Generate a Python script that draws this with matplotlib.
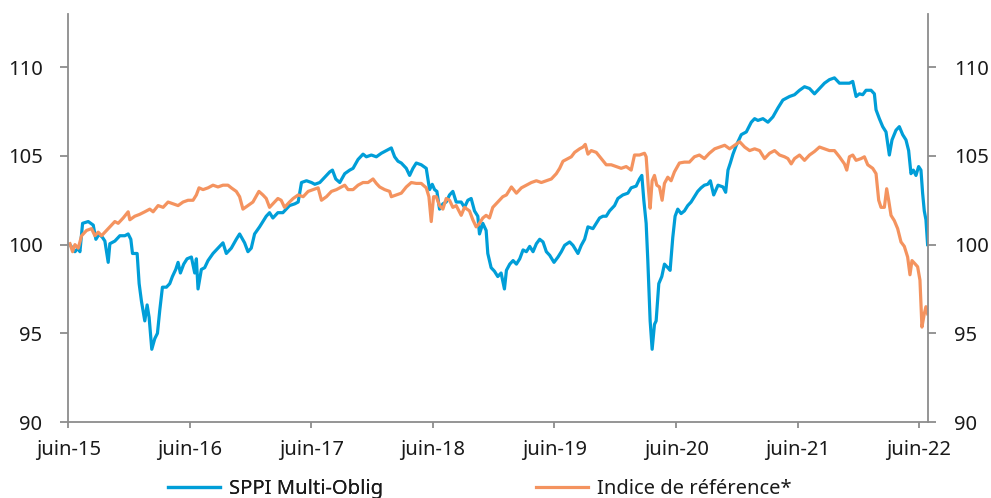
import matplotlib
matplotlib.use("Agg")
import matplotlib.pyplot as plt
import pandas as pd

plt.rcParams['font.family'] = ['Noto Sans', 'DejaVu Sans']

# ---------------- data ----------------
sppi_dates = [
    "2015-06-06", "2015-06-21", "2015-07-01", "2015-07-06", "2015-07-14", "2015-07-31", "2015-08-15",
    "2015-08-23", "2015-09-02", "2015-09-12", "2015-09-19", "2015-09-29", "2015-10-04", "2015-10-19",
    "2015-11-03", "2015-11-18", "2015-11-28", "2015-12-06", "2015-12-11", "2015-12-25", "2015-12-31",
    "2016-01-07", "2016-01-17", "2016-01-24", "2016-01-30", "2016-02-07", "2016-02-16", "2016-02-24",
    "2016-03-02", "2016-03-10", "2016-03-22", "2016-04-01", "2016-04-09", "2016-04-19", "2016-04-26",
    "2016-05-03", "2016-05-13", "2016-05-23", "2016-06-05", "2016-06-15", "2016-06-20", "2016-06-25",
    "2016-07-05", "2016-07-15", "2016-07-25", "2016-08-09", "2016-08-24", "2016-09-08", "2016-09-18",
    "2016-10-03", "2016-10-18", "2016-10-28", "2016-11-12", "2016-11-22", "2016-12-02", "2016-12-12",
    "2016-12-27", "2017-01-16", "2017-01-26", "2017-02-05", "2017-02-20", "2017-03-07", "2017-03-27",
    "2017-04-12", "2017-04-22", "2017-05-02", "2017-05-17", "2017-06-01", "2017-06-11", "2017-06-26",
    "2017-07-11", "2017-07-26", "2017-08-03", "2017-08-13", "2017-08-25", "2017-09-09", "2017-09-24",
    "2017-10-04", "2017-10-19", "2017-11-03", "2017-11-13", "2017-11-28", "2017-12-13", "2017-12-28",
    "2018-01-12", "2018-01-27", "2018-02-06", "2018-02-16", "2018-02-26", "2018-03-13", "2018-03-23",
    "2018-04-02", "2018-04-12", "2018-04-27", "2018-05-12", "2018-05-22", "2018-05-30", "2018-06-06",
    "2018-06-13", "2018-06-21", "2018-07-01", "2018-07-11", "2018-07-21", "2018-07-31", "2018-08-10",
    "2018-08-25", "2018-09-04", "2018-09-14", "2018-09-24", "2018-10-04", "2018-10-14", "2018-10-19",
    "2018-10-29", "2018-11-08", "2018-11-13", "2018-11-23", "2018-12-03", "2018-12-13", "2018-12-23",
    "2019-01-02", "2019-01-08", "2019-01-18", "2019-01-28", "2019-02-07", "2019-02-17", "2019-02-27",
    "2019-03-09", "2019-03-19", "2019-03-29", "2019-04-08", "2019-04-18", "2019-04-28", "2019-05-08",
    "2019-05-18", "2019-05-31", "2019-06-12", "2019-06-22", "2019-07-02", "2019-07-17", "2019-07-27",
    "2019-08-11", "2019-08-21", "2019-08-31", "2019-09-10", "2019-09-25", "2019-10-05", "2019-10-15",
    "2019-10-25", "2019-11-04", "2019-11-14", "2019-11-29", "2019-12-09", "2019-12-24", "2020-01-08",
    "2020-01-18", "2020-02-02", "2020-02-12", "2020-02-19", "2020-02-25", "2020-03-03", "2020-03-08",
    "2020-03-15", "2020-03-21", "2020-03-28", "2020-04-02", "2020-04-10", "2020-04-19", "2020-04-27",
    "2020-05-07", "2020-05-14", "2020-05-22", "2020-05-29", "2020-06-06", "2020-06-16", "2020-06-26",
    "2020-07-06", "2020-07-16", "2020-07-26", "2020-08-05", "2020-08-15", "2020-08-25", "2020-09-04",
    "2020-09-12", "2020-09-22", "2020-10-05", "2020-10-20", "2020-10-28", "2020-11-04", "2020-11-11",
    "2020-11-19", "2020-11-29", "2020-12-14", "2020-12-29", "2021-01-13", "2021-01-23", "2021-02-02",
    "2021-02-17", "2021-03-04", "2021-03-19", "2021-04-03", "2021-04-18", "2021-05-08", "2021-05-23",
    "2021-06-07", "2021-06-22", "2021-07-07", "2021-07-22", "2021-08-06", "2021-08-21", "2021-09-05",
    "2021-09-20", "2021-10-05", "2021-10-20", "2021-11-04", "2021-11-14", "2021-11-24", "2021-12-04",
    "2021-12-14", "2021-12-24", "2022-01-08", "2022-01-18", "2022-01-23", "2022-02-02", "2022-02-12",
    "2022-02-22", "2022-03-04", "2022-03-12", "2022-03-24", "2022-04-03", "2022-04-13", "2022-04-23",
    "2022-05-01", "2022-05-08", "2022-05-15", "2022-05-23", "2022-05-31", "2022-06-07", "2022-06-12",
    "2022-06-17", "2022-06-22", "2022-06-27",
]
sppi_values = [
    100.0, 99.6, 99.8, 99.6, 101.2, 101.3, 101.1,
    100.3, 100.6, 100.4, 100.2, 99.0, 100.05, 100.2,
    100.5, 100.5, 100.6, 100.3, 99.5, 99.5, 97.8,
    96.8, 95.7, 96.6, 95.9, 94.1, 94.7, 95.0,
    96.3, 97.6, 97.6, 97.8, 98.2, 98.6, 99.0,
    98.4, 98.9, 99.2, 99.3, 98.4, 99.2, 97.5,
    98.6, 98.7, 99.1, 99.5, 99.8, 100.1, 99.5,
    99.8, 100.3, 100.6, 100.1, 99.6, 99.8, 100.6,
    101.0, 101.6, 101.8, 101.5, 101.8, 101.8, 102.2,
    102.3, 102.4, 103.5, 103.6, 103.5, 103.4, 103.5,
    103.8, 104.1, 104.2, 103.7, 103.5, 104.0, 104.2,
    104.3, 104.8, 105.1, 104.95, 105.05, 104.95, 105.15,
    105.3, 105.45, 104.95, 104.7, 104.6, 104.3, 103.9,
    104.3, 104.6, 104.5, 104.3, 103.1, 103.4, 103.1,
    103.0, 102.0, 102.3, 102.4, 102.8, 103.0, 102.4,
    102.4, 102.1, 102.5, 102.6, 101.9, 101.6, 100.6,
    101.2, 100.8, 99.5, 98.7, 98.5, 98.2, 98.4,
    97.5, 98.55, 98.9, 99.1, 98.9, 99.2, 99.7,
    99.6, 99.9, 99.6, 100.05, 100.3, 100.15, 99.6,
    99.4, 99.0, 99.3, 99.6, 99.96, 100.15, 99.96,
    99.5, 99.96, 100.3, 101.0, 100.9, 101.2, 101.5,
    101.6, 101.6, 101.9, 102.2, 102.6, 102.8, 102.9,
    103.2, 103.3, 103.7, 103.9, 102.5, 101.2, 99.1,
    95.7, 94.1, 95.5, 95.7, 97.8, 98.2, 98.9,
    98.7, 98.55, 100.4, 101.6, 102.0, 101.75, 101.9,
    102.2, 102.4, 102.7, 103.0, 103.2, 103.35, 103.4,
    103.6, 102.8, 103.35, 103.25, 102.95, 104.2, 104.6,
    105.1, 105.6, 106.2, 106.35, 106.9, 107.1, 107.0,
    107.1, 106.9, 107.2, 107.7, 108.15, 108.35, 108.45,
    108.7, 108.9, 108.8, 108.5, 108.8, 109.1, 109.3,
    109.4, 109.1, 109.1, 109.1, 109.2, 108.35, 108.5,
    108.45, 108.7, 108.7, 108.5, 107.6, 107.1, 106.65,
    106.35, 105.05, 105.9, 106.45, 106.65, 106.2, 105.9,
    105.3, 104.0, 104.2, 103.9, 104.4, 104.2, 102.9,
    101.9, 101.4, 100.0,
]

indice_dates = [
    "2015-06-06", "2015-06-14", "2015-06-21", "2015-07-01", "2015-07-11", "2015-07-26", "2015-08-10",
    "2015-08-20", "2015-08-30", "2015-09-09", "2015-09-19", "2015-10-04", "2015-10-19", "2015-10-29",
    "2015-11-13", "2015-11-28", "2015-12-03", "2015-12-18", "2016-01-01", "2016-01-17", "2016-02-01",
    "2016-02-11", "2016-02-26", "2016-03-12", "2016-03-27", "2016-04-11", "2016-04-26", "2016-05-11",
    "2016-05-26", "2016-06-10", "2016-06-20", "2016-06-28", "2016-07-10", "2016-07-25", "2016-08-09",
    "2016-08-24", "2016-09-08", "2016-09-23", "2016-10-03", "2016-10-18", "2016-10-28", "2016-11-07",
    "2016-11-22", "2016-12-07", "2016-12-25", "2017-01-06", "2017-01-16", "2017-01-26", "2017-02-10",
    "2017-02-20", "2017-03-02", "2017-03-12", "2017-03-27", "2017-04-07", "2017-04-22", "2017-05-07",
    "2017-05-22", "2017-06-06", "2017-06-21", "2017-07-01", "2017-07-16", "2017-07-31", "2017-08-15",
    "2017-08-30", "2017-09-09", "2017-09-19", "2017-10-04", "2017-10-19", "2017-11-03", "2017-11-18",
    "2017-12-03", "2017-12-13", "2017-12-23", "2018-01-07", "2018-01-22", "2018-01-27", "2018-02-11",
    "2018-02-26", "2018-03-13", "2018-03-28", "2018-04-12", "2018-04-27", "2018-05-12", "2018-05-20",
    "2018-05-27", "2018-06-03", "2018-06-11", "2018-06-21", "2018-07-01", "2018-07-11", "2018-07-21",
    "2018-07-31", "2018-08-10", "2018-08-25", "2018-09-04", "2018-09-19", "2018-09-29", "2018-10-09",
    "2018-10-19", "2018-10-29", "2018-11-08", "2018-11-18", "2018-11-28", "2018-12-13", "2018-12-28",
    "2019-01-08", "2019-01-23", "2019-02-07", "2019-02-22", "2019-03-09", "2019-03-24", "2019-04-08",
    "2019-04-23", "2019-05-08", "2019-05-23", "2019-06-07", "2019-06-17", "2019-06-27", "2019-07-12",
    "2019-07-22", "2019-08-01", "2019-08-16", "2019-08-26", "2019-09-02", "2019-09-10", "2019-09-20",
    "2019-10-05", "2019-10-20", "2019-11-04", "2019-11-19", "2019-12-04", "2019-12-19", "2020-01-03",
    "2020-01-18", "2020-01-28", "2020-02-12", "2020-02-27", "2020-03-03", "2020-03-10", "2020-03-15",
    "2020-03-21", "2020-03-28", "2020-04-04", "2020-04-12", "2020-04-20", "2020-04-27", "2020-05-07",
    "2020-05-17", "2020-05-27", "2020-06-11", "2020-06-26", "2020-07-11", "2020-07-26", "2020-08-10",
    "2020-08-25", "2020-09-09", "2020-09-25", "2020-10-10", "2020-10-25", "2020-11-09", "2020-11-24",
    "2020-12-09", "2020-12-24", "2021-01-08", "2021-01-23", "2021-02-07", "2021-02-22", "2021-03-09",
    "2021-03-24", "2021-04-08", "2021-04-23", "2021-05-03", "2021-05-13", "2021-05-23", "2021-06-07",
    "2021-06-22", "2021-07-07", "2021-07-22", "2021-08-06", "2021-08-21", "2021-09-05", "2021-09-20",
    "2021-10-05", "2021-10-20", "2021-10-27", "2021-11-04", "2021-11-14", "2021-11-24", "2021-12-09",
    "2021-12-19", "2021-12-29", "2022-01-13", "2022-01-23", "2022-01-31", "2022-02-07", "2022-02-17",
    "2022-02-24", "2022-03-02", "2022-03-09", "2022-03-19", "2022-03-29", "2022-04-08", "2022-04-18",
    "2022-04-28", "2022-05-05", "2022-05-11", "2022-05-21", "2022-05-28", "2022-06-04", "2022-06-10",
    "2022-06-17", "2022-06-22", "2022-06-27",
]
indice_values = [
    100.05, 99.6, 100.0, 99.8, 100.5, 100.8, 100.9,
    100.5, 100.7, 100.5, 100.7, 101.0, 101.3, 101.2,
    101.5, 101.85, 101.4, 101.6, 101.7, 101.85, 102.0,
    101.85, 102.2, 102.1, 102.4, 102.3, 102.2, 102.4,
    102.5, 102.5, 102.8, 103.2, 103.1, 103.2, 103.35,
    103.25, 103.35, 103.35, 103.2, 103.0, 102.7, 102.0,
    102.2, 102.4, 103.0, 102.8, 102.6, 102.1, 102.4,
    102.6, 102.5, 102.1, 102.4, 102.6, 102.8, 102.7,
    103.0, 103.1, 103.2, 102.5, 102.7, 103.0, 103.1,
    103.25, 103.35, 103.1, 103.1, 103.35, 103.5, 103.5,
    103.7, 103.45, 103.25, 103.1, 103.0, 102.7, 102.8,
    102.9, 103.25, 103.5, 103.45, 103.45, 103.2, 102.7,
    101.3, 102.7, 102.7, 102.2, 102.0, 102.6, 102.5,
    102.1, 102.2, 101.65, 102.1, 101.9, 101.4, 101.0,
    101.2, 101.5, 101.65, 101.5, 102.1, 102.4, 102.7,
    102.8, 103.25, 102.9, 103.2, 103.35, 103.5, 103.6,
    103.5, 103.6, 103.7, 104.0, 104.3, 104.7, 104.85,
    104.95, 105.2, 105.4, 105.5, 105.65, 105.1, 105.3,
    105.2, 104.85, 104.5, 104.5, 104.4, 104.3, 104.4,
    104.2, 105.05, 105.05, 105.15, 104.95, 103.1, 102.05,
    103.6, 103.9, 103.35, 103.25, 102.5, 103.45, 103.8,
    103.6, 104.1, 104.6, 104.65, 104.65, 104.95, 105.05,
    104.85, 105.15, 105.4, 105.5, 105.6, 105.4, 105.6,
    105.8, 105.5, 105.3, 105.4, 105.3, 104.85, 105.15,
    105.3, 105.05, 104.95, 104.85, 104.55, 104.85, 105.05,
    104.75, 105.05, 105.25, 105.5, 105.4, 105.3, 105.3,
    104.95, 104.55, 104.2, 104.95, 105.05, 104.75, 104.85,
    104.95, 104.5, 104.3, 104.0, 102.5, 102.1, 102.1,
    103.15, 102.5, 101.65, 101.35, 100.9, 100.15, 99.9,
    99.3, 98.3, 99.1, 98.9, 98.75, 98.0, 95.35,
    96.1, 96.5, 96.1,
]

series_labels = ["SPPI Multi-Oblig", "Indice de référence*"]
y_ticks = [90, 95, 100, 105, 110]
x_tick_dates = ["2015-06-01", "2016-06-01", "2017-06-01", "2018-06-01",
                "2019-06-01", "2020-06-01", "2021-06-01", "2022-06-01"]
x_tick_labels = ["juin-15", "juin-16", "juin-17", "juin-18",
                 "juin-19", "juin-20", "juin-21", "juin-22"]

# ---------------- style ----------------
BLUE = "#009ED8"
ORANGE = "#F4935F"
SPINE = "#8C8C8C"
TEXT = "#1A1A1A"
FS = 14.5

fig = plt.figure(figsize=(9.91, 4.98), dpi=100)
ax = fig.add_axes([0.0689, 0.1526, 0.8678, 0.8193])

ax.plot(pd.to_datetime(sppi_dates), sppi_values, color=BLUE, lw=2.3,
        solid_joinstyle="round", label=series_labels[0])
ax.plot(pd.to_datetime(indice_dates), indice_values, color=ORANGE, lw=2.3,
        solid_joinstyle="round", label=series_labels[1])

ax.set_ylim(90, 113)
ax.set_xlim(pd.Timestamp("2015-06-01"), pd.Timestamp("2022-06-29"))
ax.set_yticks(y_ticks)
ax.set_xticks(pd.to_datetime(x_tick_dates))
ax.set_xticklabels(x_tick_labels)

for side in ["left", "right", "bottom"]:
    ax.spines[side].set_color(SPINE)
    ax.spines[side].set_linewidth(1.3)
ax.spines["top"].set_visible(False)

ax.tick_params(axis="y", which="major", left=True, right=True,
               labelleft=True, labelright=True, direction="out",
               length=6, width=1.3, color=SPINE, labelsize=FS,
               labelcolor=TEXT, pad=12.5)
ax.tick_params(axis="x", direction="out", length=4, width=1.3, color=SPINE,
               labelsize=FS, labelcolor=TEXT, pad=9)

h_blue, h_orange = ax.get_lines()
leg1 = fig.legend([h_blue], [series_labels[0]], loc="center left",
                  bbox_to_anchor=(168 / 991, 1 - 489 / 498), frameon=False,
                  fontsize=FS, handlelength=2.6, handletextpad=0.45,
                  borderpad=0, borderaxespad=0, labelcolor=TEXT)
fig.add_artist(leg1)
leg2 = fig.legend([h_orange], [series_labels[1]], loc="center left",
                  bbox_to_anchor=(536 / 991, 1 - 489 / 498), frameon=False,
                  fontsize=FS, handlelength=2.6, handletextpad=0.45,
                  borderpad=0, borderaxespad=0, labelcolor=TEXT)

fig.savefig("out.png", dpi=100)
